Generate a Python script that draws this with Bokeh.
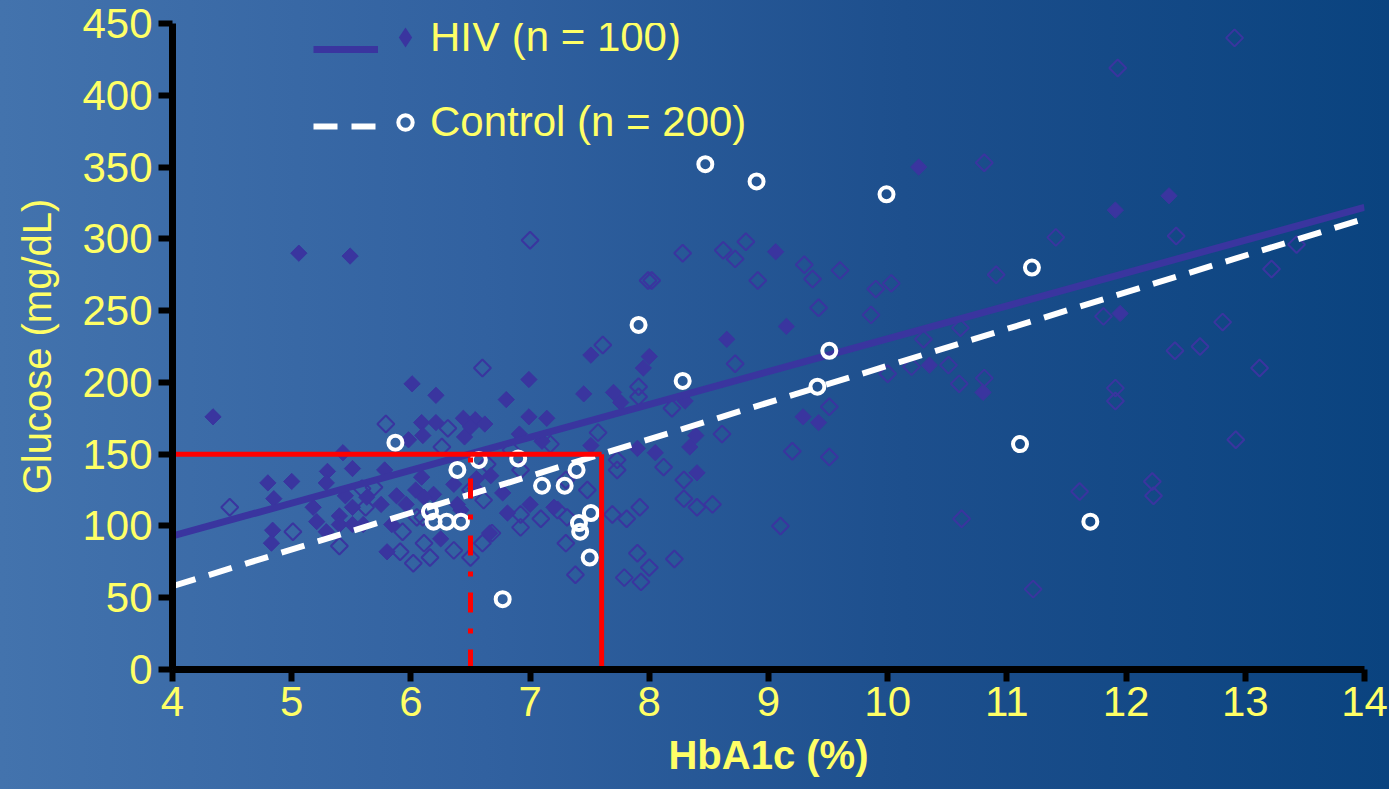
from bokeh.plotting import figure
from bokeh.models import Legend, LegendItem, InlineStyleSheet, FixedTicker, Range1d
from bokeh.embed import file_html
from bokeh.resources import INLINE
import numpy as np

# ---------------- data ----------------
x_ticks = [4, 5, 6, 7, 8, 9, 10, 11, 12, 13, 14]
y_ticks = [0, 50, 100, 150, 200, 250, 300, 350, 400, 450]

hiv_x = [4.34, 5.06, 5.49, 6.01, 6.09, 6.10, 5.98, 5.43, 5.51, 5.30, 5.00, 4.80, 5.29, 5.78, 6.09, 6.04,
         4.85, 5.18, 5.45, 5.63, 5.75, 5.88, 5.96, 5.51, 5.21, 5.40, 5.40, 5.51, 5.60, 5.29, 4.84, 4.83,
         5.80, 5.84,
         6.21, 6.80, 6.99, 7.45, 7.70, 7.51, 7.95, 7.76, 6.21, 6.44, 6.54, 6.62, 6.45, 6.50, 6.99, 7.14,
         6.91, 7.10, 7.51, 7.90, 6.19, 6.11, 6.67, 6.55, 6.77, 7.00, 7.20, 6.81, 6.25, 6.66, 6.42, 6.54,
         6.39, 6.36,
         9.06, 9.15, 8.65, 8.00, 8.30, 8.39, 8.34, 8.40, 8.05, 9.29, 9.42,
         10.26, 11.91, 12.36, 11.95, 10.35, 10.80]
hiv_y = [176, 290, 288, 199, 172, 163, 160, 151, 140, 138, 131, 130, 130, 139, 134, 125,
         119, 113, 121, 120, 115, 121, 115, 113, 103, 107, 101, 101, 101, 96, 97, 88,
         82, 101,
         191, 188, 202, 192, 193, 219, 210, 186, 172, 175, 174, 171, 162, 169, 176, 175,
         164, 159, 156, 154, 122, 120, 135, 133, 123, 115, 113, 109, 91, 95, 111, 126,
         115, 129,
         291, 239, 230, 218, 187, 163, 155, 137, 151, 176, 172,
         350, 320, 330, 248, 212, 193]

ctrl_dia_x = [5.79, 4.48, 5.01, 5.40, 5.59, 5.69, 5.62, 5.93, 5.91, 6.02, 6.10, 6.11,
              7.00, 6.60, 7.61, 7.91, 7.91, 7.99, 7.57, 6.31, 6.26, 6.84, 7.17, 6.64, 6.92, 7.73,
              7.73, 7.30, 7.48, 6.50, 6.61, 6.92, 6.92, 7.09, 7.23, 7.31, 6.05, 6.16, 6.36, 6.50,
              6.60, 6.68, 7.30, 7.38, 7.69, 7.81, 7.90, 7.93, 7.79,
              8.28, 8.62, 8.72, 8.81, 8.02, 8.91, 9.30, 9.37, 9.60, 9.42, 9.90, 10.03, 9.86, 8.72,
              8.19, 8.61, 8.12, 8.29, 8.29, 8.40, 8.53, 7.92, 9.20, 9.51, 9.51, 9.10, 8.00, 8.21,
              10.30, 10.20, 10.00,
              10.81, 11.41, 12.42, 10.91, 10.61, 10.51, 10.60, 10.81, 11.81, 12.81, 12.41, 12.62,
              13.12, 13.22, 13.43, 11.91, 11.91, 12.92, 12.22, 12.23, 11.61, 10.62, 11.22, 11.93,
              12.91]
ctrl_dia_y = [171, 113, 96, 86, 126, 127, 113, 96, 82, 74, 106, 88,
              299, 210, 226, 197, 190, 271, 165, 168, 155, 153, 157, 143, 139, 146,
              139, 132, 125, 125, 118, 108, 99, 105, 111, 106, 106, 78, 83, 78,
              88, 95, 88, 66, 108, 105, 81, 61, 64,
              290, 292, 286, 298, 271, 271, 282, 272, 278, 252, 265, 269, 247, 213,
              182, 164, 141, 132, 119, 113, 115, 113, 152, 148, 183, 100, 71, 77,
              230, 211, 206,
              353, 301, 302, 275, 238, 212, 199, 203, 246, 242, 222, 225,
              210, 279, 296, 196, 187, 160, 131, 121, 124, 105, 56, 419,
              440]

ctrl_circ_x = [5.87, 7.91, 6.39, 6.57, 6.90, 7.10, 7.29, 7.39, 7.51, 7.41, 7.42, 7.50, 6.77,
               6.19, 6.30, 6.42, 6.16, 8.28, 9.51, 9.41, 11.21, 11.11, 11.70, 9.99, 8.47, 8.90]
ctrl_circ_y = [158, 240, 139, 146, 147, 128, 128, 139, 109, 102, 96, 78, 49,
               103, 103, 103, 110, 201, 222, 197, 280, 157, 103, 331, 352, 340]

hiv_fit_x = [4, 14]
hiv_fit_y = [93, 322]
ctrl_fit_x = [4, 14]
ctrl_fit_y = [58, 314]

cut_h_x = [4, 7.6]
cut_h_y = [150, 150]
cut_v_x = [7.6, 7.6]
cut_v_y = [0, 150]
cut_d_x = [6.5, 6.5]
cut_d_y = [0, 150]

# ---------------- style ----------------
PURPLE = "#3a359f"
YELLOW = "#ffff66"
FONT = "Liberation Sans"

p = figure(width=1389, height=789, x_range=Range1d(4, 14), y_range=Range1d(0, 450),
           output_backend="svg", toolbar_location=None,
           min_border_left=172, min_border_right=25, min_border_top=23, min_border_bottom=120)
p.stylesheets = [InlineStyleSheet(css=":host { background: linear-gradient(to right, #4373ad 0%, #3161a0 35%, #1d4f8d 65%, #0a437f 100%); }")]
p.background_fill_alpha = 0
p.border_fill_alpha = 0
p.outline_line_color = None
p.grid.visible = False

for ax in (p.xaxis[0], p.yaxis[0]):
    ax.axis_line_color = "black"
    ax.axis_line_width = 7
    ax.major_tick_line_color = "black"
    ax.major_tick_line_width = 6
    ax.major_tick_in = 0
    ax.minor_tick_line_color = None
    ax.major_label_text_color = YELLOW
    ax.major_label_text_font = FONT
    ax.major_label_text_font_size = "42px"
    ax.axis_label_text_color = YELLOW
    ax.axis_label_text_font = FONT
    ax.axis_label_text_font_size = "40px"

p.xaxis.ticker = FixedTicker(ticks=x_ticks)
p.yaxis.ticker = FixedTicker(ticks=y_ticks)
p.xaxis.major_tick_out = 12
p.yaxis.major_tick_out = 14
p.xaxis.major_label_standoff = 5
p.yaxis.major_label_standoff = 6
p.xaxis.axis_label = "HbA1c (%)"
p.xaxis.axis_label_text_font_style = "bold"
p.xaxis.axis_label_standoff = 14
p.yaxis.axis_label = "Glucose (mg/dL)"
p.yaxis.axis_label_text_font_style = "normal"
p.yaxis.axis_label_standoff = 20

# points
p.scatter(ctrl_dia_x, ctrl_dia_y, marker="square", angle=np.pi / 4, size=12,
          fill_alpha=0, line_color=PURPLE, line_width=2)
p.scatter(hiv_x, hiv_y, marker="square", angle=np.pi / 4, size=11.5,
          fill_color=PURPLE, line_color=PURPLE, line_width=1)
hiv_line = p.line(hiv_fit_x, hiv_fit_y, line_color=PURPLE, line_width=7)
ctrl_line = p.line(ctrl_fit_x, ctrl_fit_y, line_color="white", line_width=6, line_dash="24 14")
circ_pts = p.scatter(ctrl_circ_x, ctrl_circ_y, marker="circle", size=14,
                     fill_alpha=0, line_color="white", line_width=4)

# cut-off lines
p.line(cut_h_x, cut_h_y, line_color="#ff0000", line_width=5)
p.line(cut_v_x, cut_v_y, line_color="#ff0000", line_width=5)
p.line(cut_d_x, cut_d_y, line_color="#ff0000", line_width=5, line_dash="20 16 5 16")

# legend key for HIV: same data, zero size in the plot (legend sizes it itself)
hiv_key = p.scatter(hiv_x, hiv_y, marker="diamond", size=0, fill_color=PURPLE, line_alpha=0)

leg_common = dict(padding=0, margin=0, background_fill_alpha=0,
                  border_line_color=None, label_text_font=FONT, label_text_font_size="42px",
                  label_text_color=YELLOW)
leg_lines = Legend(items=[LegendItem(label=" ", renderers=[hiv_line]),
                          LegendItem(label=" ", renderers=[ctrl_line])],
                   location=(141, 523), glyph_width=65, glyph_height=40, label_height=40,
                   spacing=37, label_standoff=0, **leg_common)
leg_hiv = Legend(items=[LegendItem(label="HIV (n = 100)", renderers=[hiv_key])],
                 location=(208, 602), glyph_width=50, glyph_height=60, label_height=40,
                 label_standoff=0, **leg_common)
leg_ctrl = Legend(items=[LegendItem(label="Control (n = 200)", renderers=[circ_pts])],
                  location=(215, 523), glyph_width=36, glyph_height=36, label_height=40,
                  label_standoff=7, **leg_common)
p.add_layout(leg_lines)
p.add_layout(leg_hiv)
p.add_layout(leg_ctrl)

open("out.html", "w").write(file_html(p, INLINE))
